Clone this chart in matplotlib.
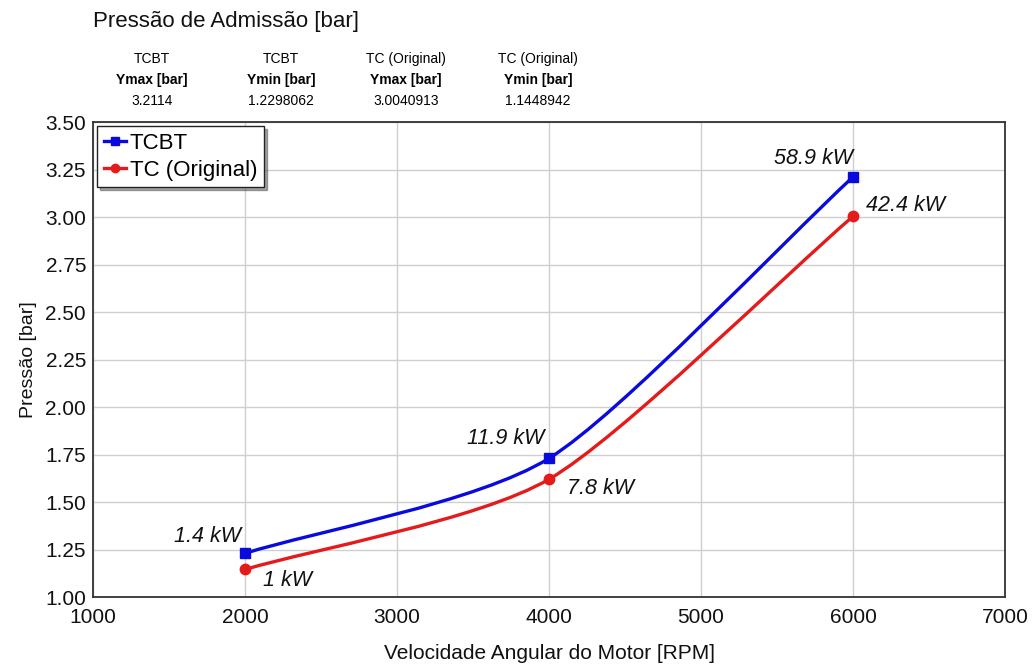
import matplotlib
matplotlib.use("Agg")
import matplotlib.pyplot as plt
from matplotlib.path import Path
from matplotlib.patches import PathPatch
import numpy as np

plt.rcParams['font.family'] = ['Liberation Sans', 'DejaVu Sans']

# Engine speed [RPM]
rpm = [2000, 4000, 6000]
# Intake pressure [bar]
p_tcbt = [1.2298062, 1.73, 3.2114]
p_tc = [1.1448942, 1.62, 3.0040913]
# Power labels
kw_tcbt = ["1.4 kW", "11.9 kW", "58.9 kW"]
kw_tc = ["1 kW", "7.8 kW", "42.4 kW"]

series_names = ["TCBT", "TC (Original)"]
x_ticks = [1000, 2000, 3000, 4000, 5000, 6000, 7000]
y_ticks = [1.00, 1.25, 1.50, 1.75, 2.00, 2.25, 2.50, 2.75, 3.00, 3.25, 3.50]

BLUE = "#0a0adf"
RED = "#e41b1b"

fig = plt.figure(figsize=(10.33, 6.66), dpi=100)
ax = fig.add_axes([0.090, 0.1036, 0.883, 0.7132])


def smooth_path(xs, ys, tension=0.7):
    """Cardinal-spline Bezier path through the points."""
    xs = np.asarray(xs, float)
    ys = np.asarray(ys, float)
    n = len(xs)
    seg = np.diff(ys) / np.diff(xs)
    m = np.empty(n)
    m[0] = seg[0]
    m[-1] = seg[-1]
    for i in range(1, n - 1):
        m[i] = (ys[i + 1] - ys[i - 1]) / (xs[i + 1] - xs[i - 1])
    verts = [(xs[0], ys[0])]
    codes = [Path.MOVETO]
    for i in range(n - 1):
        dx = (xs[i + 1] - xs[i]) * tension / 3
        verts += [(xs[i] + dx, ys[i] + m[i] * dx),
                  (xs[i + 1] - dx, ys[i + 1] - m[i + 1] * dx),
                  (xs[i + 1], ys[i + 1])]
        codes += [Path.CURVE4] * 3
    return Path(verts, codes)


for ys, color in [(p_tcbt, BLUE), (p_tc, RED)]:
    ax.add_patch(PathPatch(smooth_path(rpm, ys), facecolor="none",
                           edgecolor=color, lw=2.4, zorder=3))

ax.plot(rpm, p_tcbt, ls="none", marker="s", ms=7.5, color=BLUE, zorder=4)
ax.plot(rpm, p_tc, ls="none", marker="o", ms=7.5, color=RED, zorder=4)

# Legend proxies: short line with marker
l1, = ax.plot([], [], color=BLUE, lw=2.4, marker="s", ms=6)
l2, = ax.plot([], [], color=RED, lw=2.4, marker="o", ms=6)
leg = ax.legend([l1, l2], series_names, loc="upper left",
                bbox_to_anchor=(0.0, 1.0), borderaxespad=0.2,
                fontsize=16, handlelength=1.0, handletextpad=0.15,
                borderpad=0.3, labelspacing=0.25, fancybox=False,
                shadow=True, framealpha=1, edgecolor="#222222")
leg.get_frame().set_linewidth(1.0)

ann_style = dict(textcoords="offset points", fontsize=15.5, style="italic",
                 color="#111111", va="center")
offs_tcbt = [(-3, 12), (-3, 14), (0, 13)]
offs_tc = [(13, -8), (13, -6.5), (9, 8)]
for x, y, t, o in zip(rpm, p_tcbt, kw_tcbt, offs_tcbt):
    ax.annotate(t, (x, y), xytext=o, ha="right", **ann_style)
for x, y, t, o in zip(rpm, p_tc, kw_tc, offs_tc):
    ax.annotate(t, (x, y), xytext=o, ha="left", **ann_style)

ax.set_xlim(1000, 7000)
ax.set_ylim(1.0, 3.5)
ax.set_xticks(x_ticks)
ax.set_yticks(y_ticks)
ax.set_yticklabels([f"{v:.2f}" for v in y_ticks])
ax.grid(True, color="#cfcfcf", lw=1.0)
ax.set_axisbelow(True)
ax.tick_params(length=0, labelsize=15, colors="#111111")
ax.tick_params(axis="y", pad=5)
ax.tick_params(axis="x", pad=8)
for sp in ax.spines.values():
    sp.set_color("#333333")
    sp.set_linewidth(1.3)

ax.set_xlabel("Velocidade Angular do Motor [RPM]", fontsize=15, labelpad=12,
              color="#111111")
ax.set_ylabel("Pressão [bar]", fontsize=14, labelpad=6, color="#111111")

# Title and summary header
fig.text(93 / 1033, 1 - 21 / 666, "Pressão de Admissão [bar]", fontsize=16,
         ha="left", va="center", color="#111111")
hdr_cols = [152, 281, 406, 538]
hdr_names = ["TCBT", "TCBT", "TC (Original)", "TC (Original)"]
hdr_stats = ["Ymax [bar]", "Ymin [bar]", "Ymax [bar]", "Ymin [bar]"]
hdr_vals = [f"{max(p_tcbt):.4f}", f"{min(p_tcbt):.7f}",
            f"{max(p_tc):.7f}", f"{min(p_tc):.7f}"]
for cx, nm, st, vl in zip(hdr_cols, hdr_names, hdr_stats, hdr_vals):
    fx = cx / 1033
    fig.text(fx, 1 - 59 / 666, nm, fontsize=10, ha="center", va="center")
    fig.text(fx, 1 - 80 / 666, st, fontsize=10, ha="center", va="center",
             weight="bold")
    fig.text(fx, 1 - 101 / 666, vl, fontsize=10, ha="center", va="center")

fig.savefig("out.png", dpi=100)
